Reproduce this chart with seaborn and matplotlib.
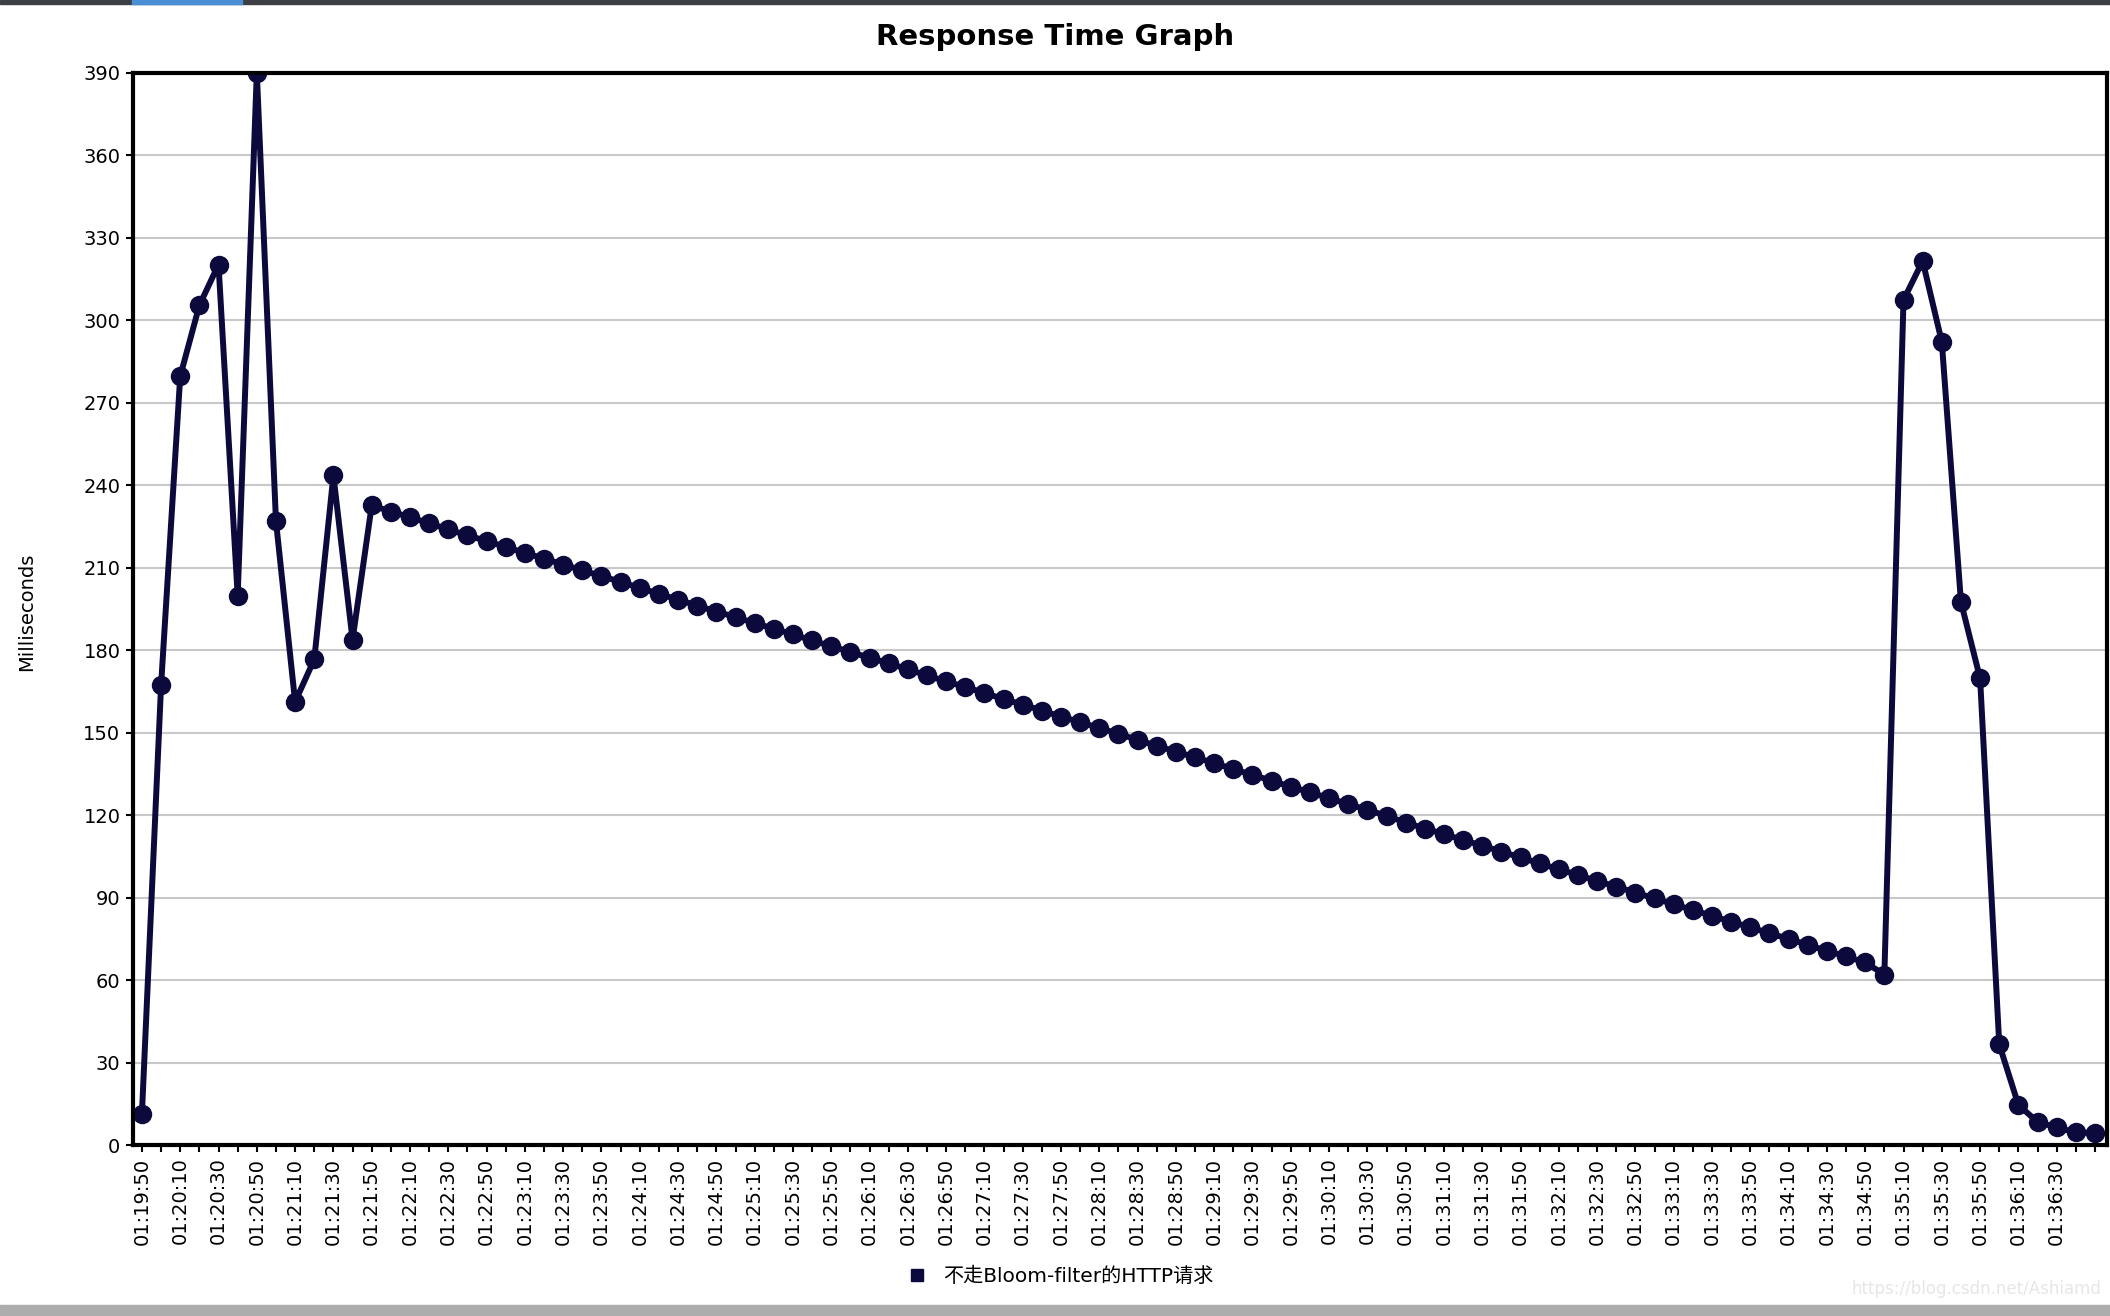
import seaborn as sns
import matplotlib.pyplot as plt
from matplotlib.lines import Line2D
from matplotlib.patches import Rectangle
import pandas as pd

# response time samples, one every 10 seconds starting at 01:19:50
start_time = "01:19:50"
step = "10s"
response_ms = [
    11.4, 167.2, 279.6, 305.4, 320.2, 199.8, 390.0, 226.9, 161.2, 176.6,
    243.5, 183.8, 232.6, 230.4, 228.3, 226.1, 223.9, 221.7, 219.7, 217.5,
    215.3, 213.3, 211.1, 209.0, 206.9, 204.8, 202.6, 200.5, 198.3, 196.2,
    194.0, 192.0, 189.8, 187.8, 185.7, 183.5, 181.4, 179.3, 177.2, 175.2,
    173.0, 170.8, 168.6, 166.6, 164.4, 162.2, 160.2, 158.0, 155.8, 153.8,
    151.6, 149.6, 147.3, 145.2, 143.1, 141.0, 138.9, 136.7, 134.6, 132.5,
    130.3, 128.3, 126.1, 124.0, 121.9, 119.7, 117.3, 115.1, 113.1, 110.9,
    108.9, 106.7, 104.6, 102.4, 100.3, 98.2, 96.0, 94.0, 91.8, 89.7,
    87.6, 85.4, 83.4, 81.2, 79.2, 77.0, 75.0, 72.8, 70.6, 68.6,
    66.4, 62.0, 307.3, 321.5, 292.1, 197.5, 169.7, 36.6, 14.6, 8.4,
    6.4, 4.6, 4.4,
]
series_name = "不走Bloom-filter的HTTP请求"
y_ticks = list(range(0, 391, 30))

times = pd.date_range("2020-01-01 " + start_time, periods=len(response_ms), freq=step)
time_labels = times.strftime("%H:%M:%S")
df = pd.DataFrame({"idx": range(len(response_ms)), "ms": response_ms})

sns.set_style("whitegrid")
plt.rcParams["font.family"] = ["DejaVu Sans", "Noto Sans CJK SC"]
plt.rcParams["text.color"] = "black"
plt.rcParams["xtick.color"] = "black"
plt.rcParams["ytick.color"] = "black"

navy = "#0c0a3c"
fig = plt.figure(figsize=(21.1, 13.16), dpi=100)
ax = fig.add_axes([0.063, 0.1299, 0.9356, 0.8149])

sns.lineplot(data=df, x="idx", y="ms", ax=ax, color=navy, linewidth=4.3,
             marker="o", markersize=14, markeredgewidth=0, legend=False)

ax.set_xlim(-0.47, len(response_ms) - 1 + 0.63)
ax.set_ylim(0, 390)
ax.set_yticks(y_ticks)
ax.set_yticklabels([str(v) for v in y_ticks], fontsize=14)
ax.set_xticks(range(len(response_ms)))
ax.set_xticklabels([lbl if i % 2 == 0 and i <= 100 else "" for i, lbl in enumerate(time_labels)],
                   rotation=90, fontsize=14)
ax.tick_params(axis="both", direction="out", length=5, width=1.5, color="black",
               labelcolor="black", left=True, bottom=True, pad=4)
ax.set_xlabel("")
ax.set_ylabel("")

ax.grid(axis="y", color="#c8c8c8", linewidth=1.5)
ax.grid(axis="x", visible=False)
for s in ax.spines.values():
    s.set_color("black")
    s.set_linewidth(3)

fig.text(0.5, 0.972, "Response Time Graph", ha="center", va="center",
         fontsize=21, fontweight="bold", color="black")
fig.text(0.0128, 0.535, "Milliseconds", rotation=90, ha="center", va="center",
         fontsize=14, color="black")

handle = Line2D([], [], linestyle="none", marker="s", markersize=9, color=navy)
fig.legend([handle], [series_name], loc="center", bbox_to_anchor=(0.5, 0.0304),
           frameon=False, fontsize=14.5, handletextpad=0.3)

# screenshot frame bits
fig.patches.append(Rectangle((0, 1 - 4 / 1316), 1, 4 / 1316, transform=fig.transFigure,
                             color="#3c3f44", zorder=0))
fig.patches.append(Rectangle((132 / 2110, 1 - 4 / 1316), 110 / 2110, 4 / 1316,
                             transform=fig.transFigure, color="#4a8fd6", zorder=1))
fig.patches.append(Rectangle((0, 0), 1, 11 / 1316, transform=fig.transFigure,
                             color="#adadad", zorder=0))
fig.text(0.996, 0.0135, "https://blog.csdn.net/Ashiamd", ha="right", va="bottom",
         fontsize=12, color="#e6e6e6")

fig.savefig("out.png", dpi=100)
